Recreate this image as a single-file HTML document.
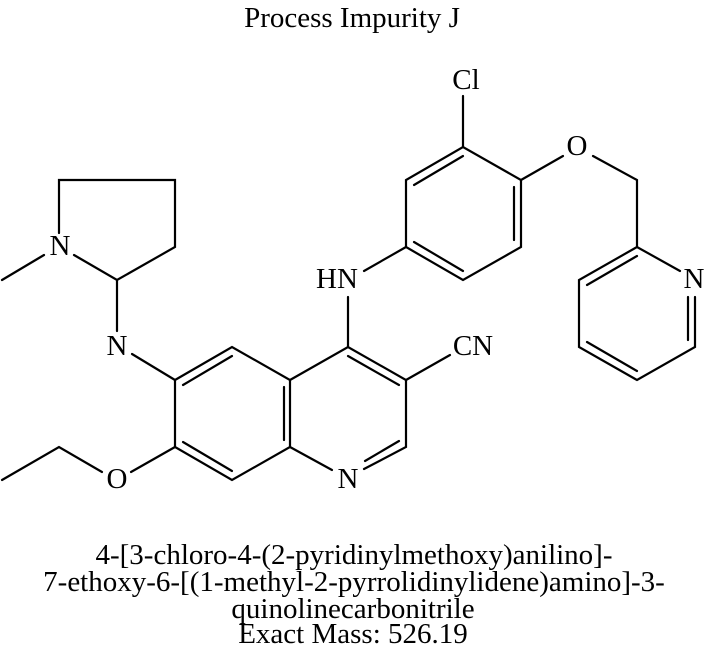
<!DOCTYPE html>
<html><head><style>
html,body{margin:0;padding:0;background:#fff;}
svg{display:block;}
text{font-family:"Liberation Serif",serif;fill:#000;}
</style></head><body>
<svg width="706" height="655" viewBox="0 0 706 655" xmlns="http://www.w3.org/2000/svg">
<g stroke="#000" stroke-width="2.2" fill="none" stroke-linecap="round">
<polyline points="59,233 59,180 175,180 175,247 117,280 74,255"/>
<line x1="44" y1="255" x2="2" y2="280"/>
<line x1="117" y1="280" x2="117" y2="331"/>
<line x1="132" y1="354" x2="175" y2="380"/>
<polygon points="175,380 232,347 290,380 290,447 232,480 175,447"/>
<line x1="183" y1="385" x2="232" y2="356"/>
<line x1="183" y1="442" x2="232" y2="471"/>
<line x1="284" y1="387" x2="284" y2="440"/>
<line x1="175" y1="447" x2="131" y2="472"/>
<polyline points="102,472 59,447 2,480"/>
<polyline points="290,380 348,347 406,380 406,447 364,469"/>
<line x1="290" y1="447" x2="332" y2="470"/>
<line x1="348" y1="356" x2="399" y2="385"/>
<line x1="399" y1="441" x2="365" y2="461"/>
<line x1="406" y1="380" x2="450" y2="355"/>
<line x1="348" y1="347" x2="348" y2="297"/>
<line x1="364" y1="271" x2="406" y2="247"/>
<polygon points="406,247 406,180 463,147 521,180 521,247 463,280"/>
<line x1="414" y1="185" x2="463" y2="156"/>
<line x1="514" y1="187" x2="514" y2="240"/>
<line x1="463" y1="271" x2="414" y2="242"/>
<line x1="463" y1="147" x2="463" y2="96"/>
<line x1="521" y1="180" x2="563" y2="156"/>
<polyline points="593,156 637,180 637,247"/>
<polyline points="680,271 637,247 579,280 579,347 637,380 695,347 695,297"/>
<line x1="637" y1="256" x2="587" y2="285"/>
<line x1="688" y1="297" x2="688" y2="340"/>
<line x1="637" y1="371" x2="587" y2="342"/>
</g>
<g font-size="29" text-anchor="middle">
<text x="60" y="255">N</text>
<text x="117" y="355">N</text>
<text x="117" y="488">O</text>
<text x="348" y="488">N</text>
<text x="337" y="288">HN</text>
<text x="473" y="355">CN</text>
<text x="466" y="89">Cl</text>
<text x="577" y="155">O</text>
<text x="694" y="288">N</text>
</g>
<g font-size="29" text-anchor="middle">
<text x="352" y="27">Process Impurity J</text>
<text x="354" y="564">4-[3-chloro-4-(2-pyridinylmethoxy)anilino]-</text>
<text x="354" y="591">7-ethoxy-6-[(1-methyl-2-pyrrolidinylidene)amino]-3-</text>
<text x="353" y="618">quinolinecarbonitrile</text>
<text x="353" y="643">Exact Mass: 526.19</text>
</g>
</svg>
</body></html>
